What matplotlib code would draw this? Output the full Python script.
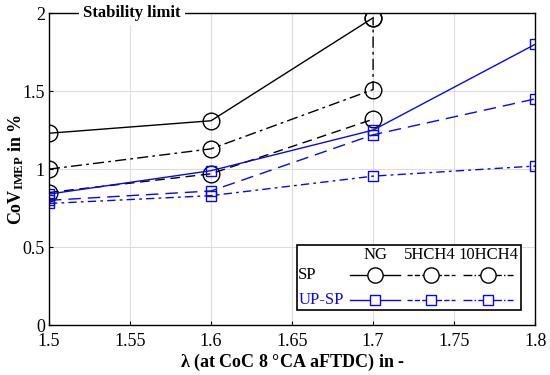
import numpy as np
import matplotlib
matplotlib.use("Agg")
import matplotlib.pyplot as plt
from matplotlib.patches import Rectangle

plt.rcParams['font.family'] = ['Liberation Serif', 'DejaVu Serif']
plt.rcParams['mathtext.fontset'] = 'custom'
plt.rcParams['mathtext.rm'] = 'Liberation Serif'
plt.rcParams['mathtext.bf'] = 'Liberation Serif:bold'

# Data
lam = [1.5, 1.6, 1.7, 1.8]
sp_ng_x = [1.5, 1.6, 1.7]
sp_ng = [1.23, 1.31, 1.97]
sp_5h_x = [1.5, 1.6, 1.7]
sp_5h = [0.85, 0.97, 1.32]
sp_10h_x = [1.5, 1.6, 1.7, 1.7]
sp_10h = [1.00, 1.13, 1.51, 1.97]
up_ng = [0.84, 0.99, 1.25, 1.80]
up_5h = [0.80, 0.86, 1.22, 1.45]
up_10h = [0.78, 0.83, 0.955, 1.02]

fuels = ['NG', '5HCH4', '10HCH4']
blue = '#0a0ae0'
ls_sp = ['-', (0, (7, 4)), (0, (8, 3, 2, 3))]
ls_up = ['-', (0, (9, 5)), (0, (6, 3, 2, 3))]

fig = plt.figure(figsize=(5.5, 3.75), dpi=100)
ax = fig.add_axes([0.089, 0.133, 0.884, 0.832])

circ = dict(marker='o', markersize=12, markerfacecolor='none', markeredgewidth=1.0)
sq = dict(marker='s', markersize=7.5, markerfacecolor='none', markeredgewidth=1.0)

ax.plot(sp_ng_x, sp_ng, color='black', linestyle=ls_sp[0], lw=1.0, **circ)
ax.plot(sp_5h_x, sp_5h, color='black', linestyle=ls_sp[1], lw=1.0, **circ)
ax.plot(sp_10h_x, sp_10h, color='black', linestyle=ls_sp[2], lw=1.0, **circ)
ax.plot(lam, up_ng, color=blue, linestyle=ls_up[0], lw=1.0, **sq)
ax.plot(lam, up_5h, color=blue, linestyle=ls_up[1], lw=1.0, **sq)
ax.plot(lam, up_10h, color=blue, linestyle=ls_up[2], lw=1.0, **sq)

ax.set_xlim(1.5, 1.8)
ax.set_ylim(0, 2)
ax.set_xticks([1.5, 1.55, 1.6, 1.65, 1.7, 1.75, 1.8])
ax.set_xticklabels(['1.5', '1.55', '1.6', '1.65', '1.7', '1.75', '1.8'])
ax.set_yticks([0, 0.5, 1, 1.5, 2])
ax.set_yticklabels(['0', '0.5', '1', '1.5', '2'])
ax.tick_params(labelsize=13, direction='in', length=3, width=0.8)
ax.tick_params(axis='x', pad=6)
ax.tick_params(axis='y', pad=3)
ax.grid(True, color='#dddddd', lw=0.8)
ax.set_axisbelow(True)
for s in ax.spines.values():
    s.set_linewidth(1.0)

ax.set_xlabel(r'$\mathbf{\lambda}$ (at CoC 8 °CA aFTDC) in -', fontsize=13,
              fontweight='bold', labelpad=1)
ax.set_ylabel(r'$\mathbf{CoV_{IMEP}}$ in %', fontsize=13, fontweight='bold')
ax.yaxis.set_label_coords(-0.048, 0.5)

ax.text(1.551, 2.0, 'Stability limit', ha='center', va='center', fontsize=12,
        fontweight='bold', bbox=dict(facecolor='white', edgecolor='none', pad=3),
        clip_on=False)

# Table-style legend
tr = ax.transAxes
ax.add_patch(Rectangle((0.510, 0.048), 0.461, 0.208, transform=tr,
                       facecolor='white', edgecolor='black', lw=1.2, zorder=5))
cols = [(0.619, 0.722), (0.737, 0.835), (0.852, 0.955)]
hx = [0.671, 0.784, 0.905]
leg_ls = ['-', '--', '-.']
for i, f in enumerate(fuels):
    ax.text(hx[i], 0.224, f, transform=tr, ha='center', va='center',
            fontsize=12, zorder=6)
    x0, x1 = cols[i]
    xm = (x0 + x1) / 2
    ax.plot([x0, x1], [0.160, 0.160], transform=tr, color='black',
            linestyle=leg_ls[i], lw=1.0, zorder=6, clip_on=False)
    ax.plot([xm], [0.160], transform=tr, color='black', zorder=7,
            clip_on=False, markersize=11, marker='o', markerfacecolor='white',
            markeredgewidth=1.0)
    ax.plot([x0, x1], [0.080, 0.080], transform=tr, color=blue,
            linestyle=leg_ls[i], lw=1.0, zorder=6, clip_on=False)
    ax.plot([xm], [0.080], transform=tr, color=blue, zorder=7,
            clip_on=False, markersize=7.5, marker='s', markerfacecolor='white',
            markeredgewidth=1.0)
ax.text(0.513, 0.160, 'SP', transform=tr, ha='left', va='center',
        fontsize=12, zorder=6)
ax.text(0.513, 0.080, 'UP-SP', transform=tr, ha='left', va='center',
        fontsize=12, color=blue, zorder=6)

fig.savefig('out.png', dpi=100)
